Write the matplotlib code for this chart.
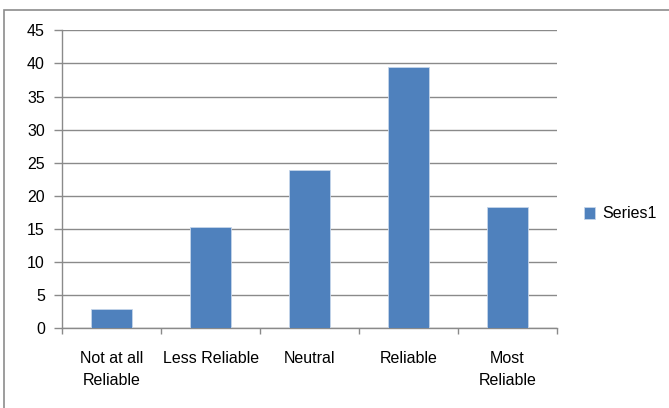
import matplotlib.pyplot as plt
from matplotlib.patches import Rectangle
from matplotlib.ticker import FixedLocator

categories = ["Not at all\nReliable", "Less Reliable", "Neutral", "Reliable", "Most\nReliable"]
values = [2.9, 15.3, 23.9, 39.4, 18.3]
yticks = list(range(0, 50, 5))
series_name = "Series1"
title = "Ratings of Reliability of the Ratings"

plt.rcParams['font.family'] = ['Liberation Sans', 'DejaVu Sans']

fig = plt.figure(figsize=(6.69, 4.08), dpi=100)
W, H = 669, 408

# chart area frame (left and top edges show)
fig.patches.append(Rectangle((4 / W, -0.05), 1.2, 1 - 10 / H + 0.05,
                             transform=fig.transFigure, fill=False,
                             edgecolor='#8c8c8c', linewidth=1.2))

# title sits mostly above the canvas, only its descenders show
fig.text(100 / W, 1 + 6.5 / H, title, ha='left', va='baseline', fontsize=14.3,
         fontweight='bold')

ax = fig.add_axes([62.3 / W, 1 - 328.3 / H, (556.7 - 62.3) / W, (328.3 - 30.3) / H])
x = list(range(len(categories)))
ax.bar(x, values, width=0.41, color='#4F81BD', edgecolor='#c5d5ea', linewidth=0.6,
       label=series_name, zorder=3)

ax.set_xlim(-0.5, len(categories) - 0.5)
ax.set_ylim(0, 45)
ax.set_yticks(yticks)
ax.yaxis.grid(True, color='#8a8a8a', linewidth=1, zorder=0)
for s in ['top', 'right']:
    ax.spines[s].set_visible(False)
for s in ['left', 'bottom']:
    ax.spines[s].set_color('#8a8a8a')
    ax.spines[s].set_linewidth(1)

ax.set_xticks(x)
ax.set_xticklabels(categories, fontsize=11.5, linespacing=1.65)
ax.tick_params(axis='x', which='major', length=0, pad=16)
ax.xaxis.set_minor_locator(FixedLocator([i - 0.5 for i in range(len(categories) + 1)]))
ax.tick_params(axis='x', which='minor', length=4.5, color='#8a8a8a', width=1)
ax.tick_params(axis='y', length=5.5, color='#8a8a8a', width=1, labelsize=11.5, pad=7)

leg = fig.legend(loc='center left', bbox_to_anchor=(584 / W, 1 - 214 / H), frameon=False,
                 fontsize=11.5, handlelength=0.7, handleheight=0.7, handletextpad=0.45,
                 borderaxespad=0, borderpad=0)

fig.savefig('out.png', dpi=100)
